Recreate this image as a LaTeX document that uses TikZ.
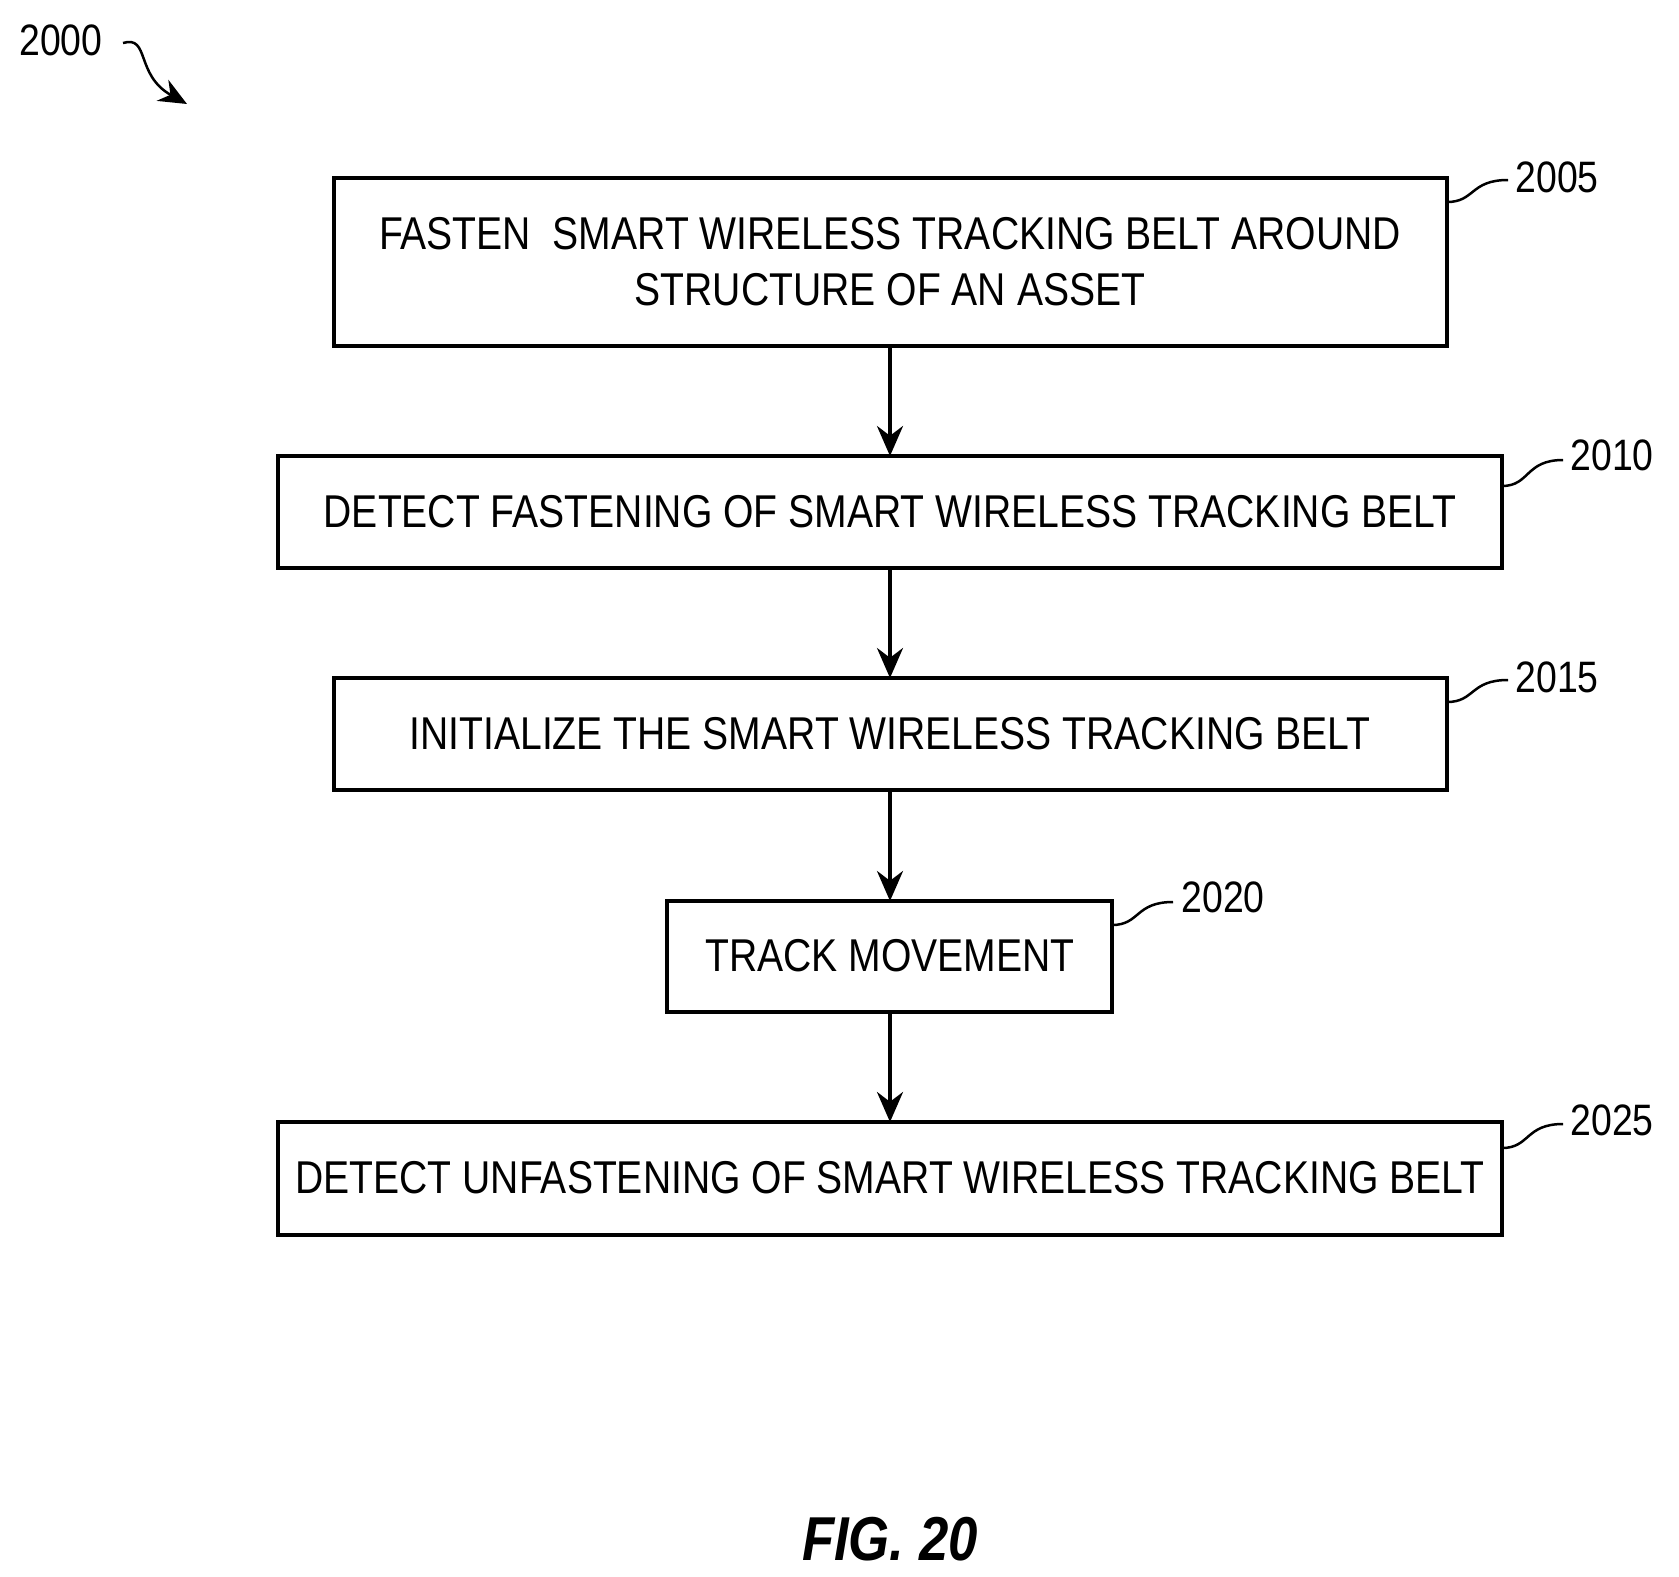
\documentclass[tikz,border=0pt]{standalone}
\usepackage{fontspec}
\setmainfont{Liberation Sans}[FakeStretch=0.85]
\usetikzlibrary{arrows.meta}
\begin{document}
\begin{tikzpicture}[x=1pt,y=-1pt,
 box/.style={draw,line width=3.5pt,inner sep=0},
 txt/.style={font=\fontsize{46}{56}\selectfont,align=center},
 lab/.style={font=\fontsize{44}{52}\selectfont,anchor=west},
 lead/.style={line width=2.5pt},
 arr/.style={line width=3.5pt,-{Stealth[length=30pt,width=26pt]}}]
\useasboundingbox (0,0) rectangle (1679,1577);
\draw[box] (334,178) rectangle (1447,346); \coordinate (b1t) at (890,178); \coordinate (b1b) at (890,346);
\draw[box] (278,456) rectangle (1502,568); \coordinate (b2t) at (890,456); \coordinate (b2b) at (890,568);
\draw[box] (334,678) rectangle (1447,790); \coordinate (b3t) at (890,678); \coordinate (b3b) at (890,790);
\draw[box] (667,901) rectangle (1112,1012); \coordinate (b4t) at (890,901); \coordinate (b4b) at (890,1012);
\draw[box] (278,1122) rectangle (1502,1235); \coordinate (b5t) at (890,1122);
\node[txt] (t1) at (890,262) {FASTEN\ \ SMART WIRELESS TRACKING BELT AROUND\\STRUCTURE OF AN ASSET};
\node[txt] (t2) at (890,512) {DETECT FASTENING OF SMART WIRELESS TRACKING BELT};
\node[txt] (t3) at (890,734) {INITIALIZE THE SMART WIRELESS TRACKING BELT};
\node[txt] (t4) at (890,956) {TRACK MOVEMENT};
\node[txt] (t5) at (890,1178) {DETECT UNFASTENING OF SMART WIRELESS TRACKING BELT};
\draw[arr] (b1b) -- (b2t);
\draw[arr] (b2b) -- (b3t);
\draw[arr] (b3b) -- (b4t);
\draw[arr] (b4b) -- (b5t);
\node[lab] (l1) at (1512,177) {2005};
\node[lab] (l2) at (1567,455) {2010};
\node[lab] (l3) at (1512,677) {2015};
\node[lab] (l4) at (1178,897) {2020};
\node[lab] (l5) at (1567,1120) {2025};
\draw[lead] (1447,202) .. controls (1475,202) and (1470,180) .. (1508,180);
\draw[lead] (1502,486) .. controls (1530,486) and (1525,460) .. (1563,460);
\draw[lead] (1447,702) .. controls (1475,702) and (1470,680) .. (1508,680);
\draw[lead] (1112,925) .. controls (1140,925) and (1135,902) .. (1173,902);
\draw[lead] (1502,1148) .. controls (1530,1148) and (1525,1124) .. (1563,1124);
\node[font=\fontsize{44}{52}\selectfont] (l0) at (61,40) {2000};
\coordinate (a0) at (187,104);
\draw[lead,-{Stealth[length=28pt,width=24pt]}] (123,43) .. controls (150,35) and (135,75) .. (a0);
\node[font=\fontsize{62}{70}\selectfont\bfseries\itshape] (fig) at (890,1539) {FIG. 20};
\end{tikzpicture}
\end{document}
